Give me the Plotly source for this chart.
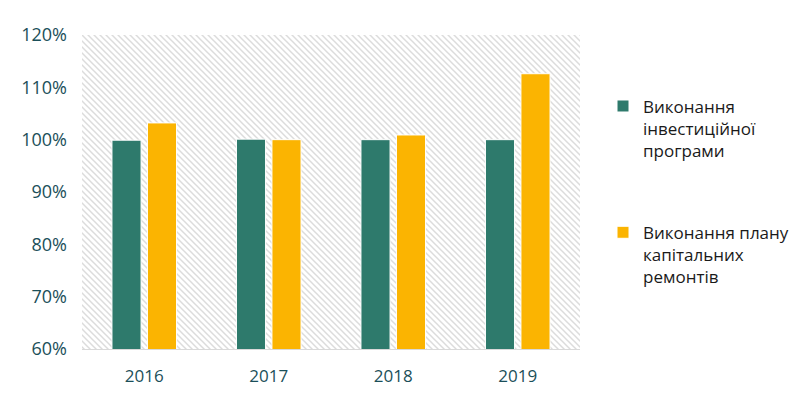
import plotly.graph_objects as go
import base64

years = ["2016", "2017", "2018", "2019"]
invest = [99.9, 100.1, 100.0, 100.0]
repairs = [103.2, 100.0, 100.9, 112.6]
name_invest = "Виконання<br>інвестиційної<br>програми"
name_repairs = "Виконання плану<br>капітальних<br>ремонтів"
y_ticks = [60, 70, 80, 90, 100, 110, 120]

svg = ('<svg xmlns="http://www.w3.org/2000/svg" width="498" height="314">'
       '<defs><pattern id="p" patternUnits="userSpaceOnUse" width="6" height="6">'
       '<path d="M0,0 L6,6 M-3,3 L3,9 M3,-3 L9,3" stroke="#dcdcdc" stroke-width="1.5"/>'
       '</pattern></defs><rect width="498" height="314" fill="url(#p)"/></svg>')
src = "data:image/svg+xml;base64," + base64.b64encode(svg.encode()).decode()

fig = go.Figure()
fig.add_trace(go.Bar(x=years, y=invest, name=name_invest, legendgroup="a",
                     marker=dict(color="#2E7A6C", line=dict(color="white", width=1))))
fig.add_trace(go.Bar(x=years, y=repairs, name=name_repairs, legendgroup="b",
                     marker=dict(color="#FBB401", line=dict(color="white", width=1))))

fig.update_layout(
    width=804, height=402,
    margin=dict(l=82, r=224, t=35, b=53),
    paper_bgcolor="white", plot_bgcolor="white",
    barmode="group", bargap=0.43, bargroupgap=0.18,
    font=dict(family="Open Sans, sans-serif"),
    images=[dict(source=src, xref="paper", yref="paper", x=0, y=1,
                 sizex=1, sizey=1, sizing="stretch", layer="below",
                 xanchor="left", yanchor="top")],
    xaxis=dict(showgrid=False, showline=True, linecolor="#d9d9d9", linewidth=1,
               tickfont=dict(size=17, color="#1B4F59"), ticks="",
               ticklabelstandoff=12, automargin=False),
    yaxis=dict(range=[60, 120], tickvals=y_ticks,
               ticktext=[f"{v}%" for v in y_ticks], showgrid=False,
               zeroline=False, tickfont=dict(size=18, color="#1B4F59"),
               ticklabelstandoff=14, automargin=False),
    legend=dict(xref="container", yref="container", x=0.75, y=0.78,
                xanchor="left", yanchor="top", maxheight=400,
                font=dict(size=17, color="#1a1a1a"), valign="top",
                tracegroupgap=57, itemwidth=30),
    showlegend=True,
)
fig.write_html("out.html", config={"displayModeBar": False},
               post_script="document.body.style.margin='0';document.body.style.overflow='hidden';")
